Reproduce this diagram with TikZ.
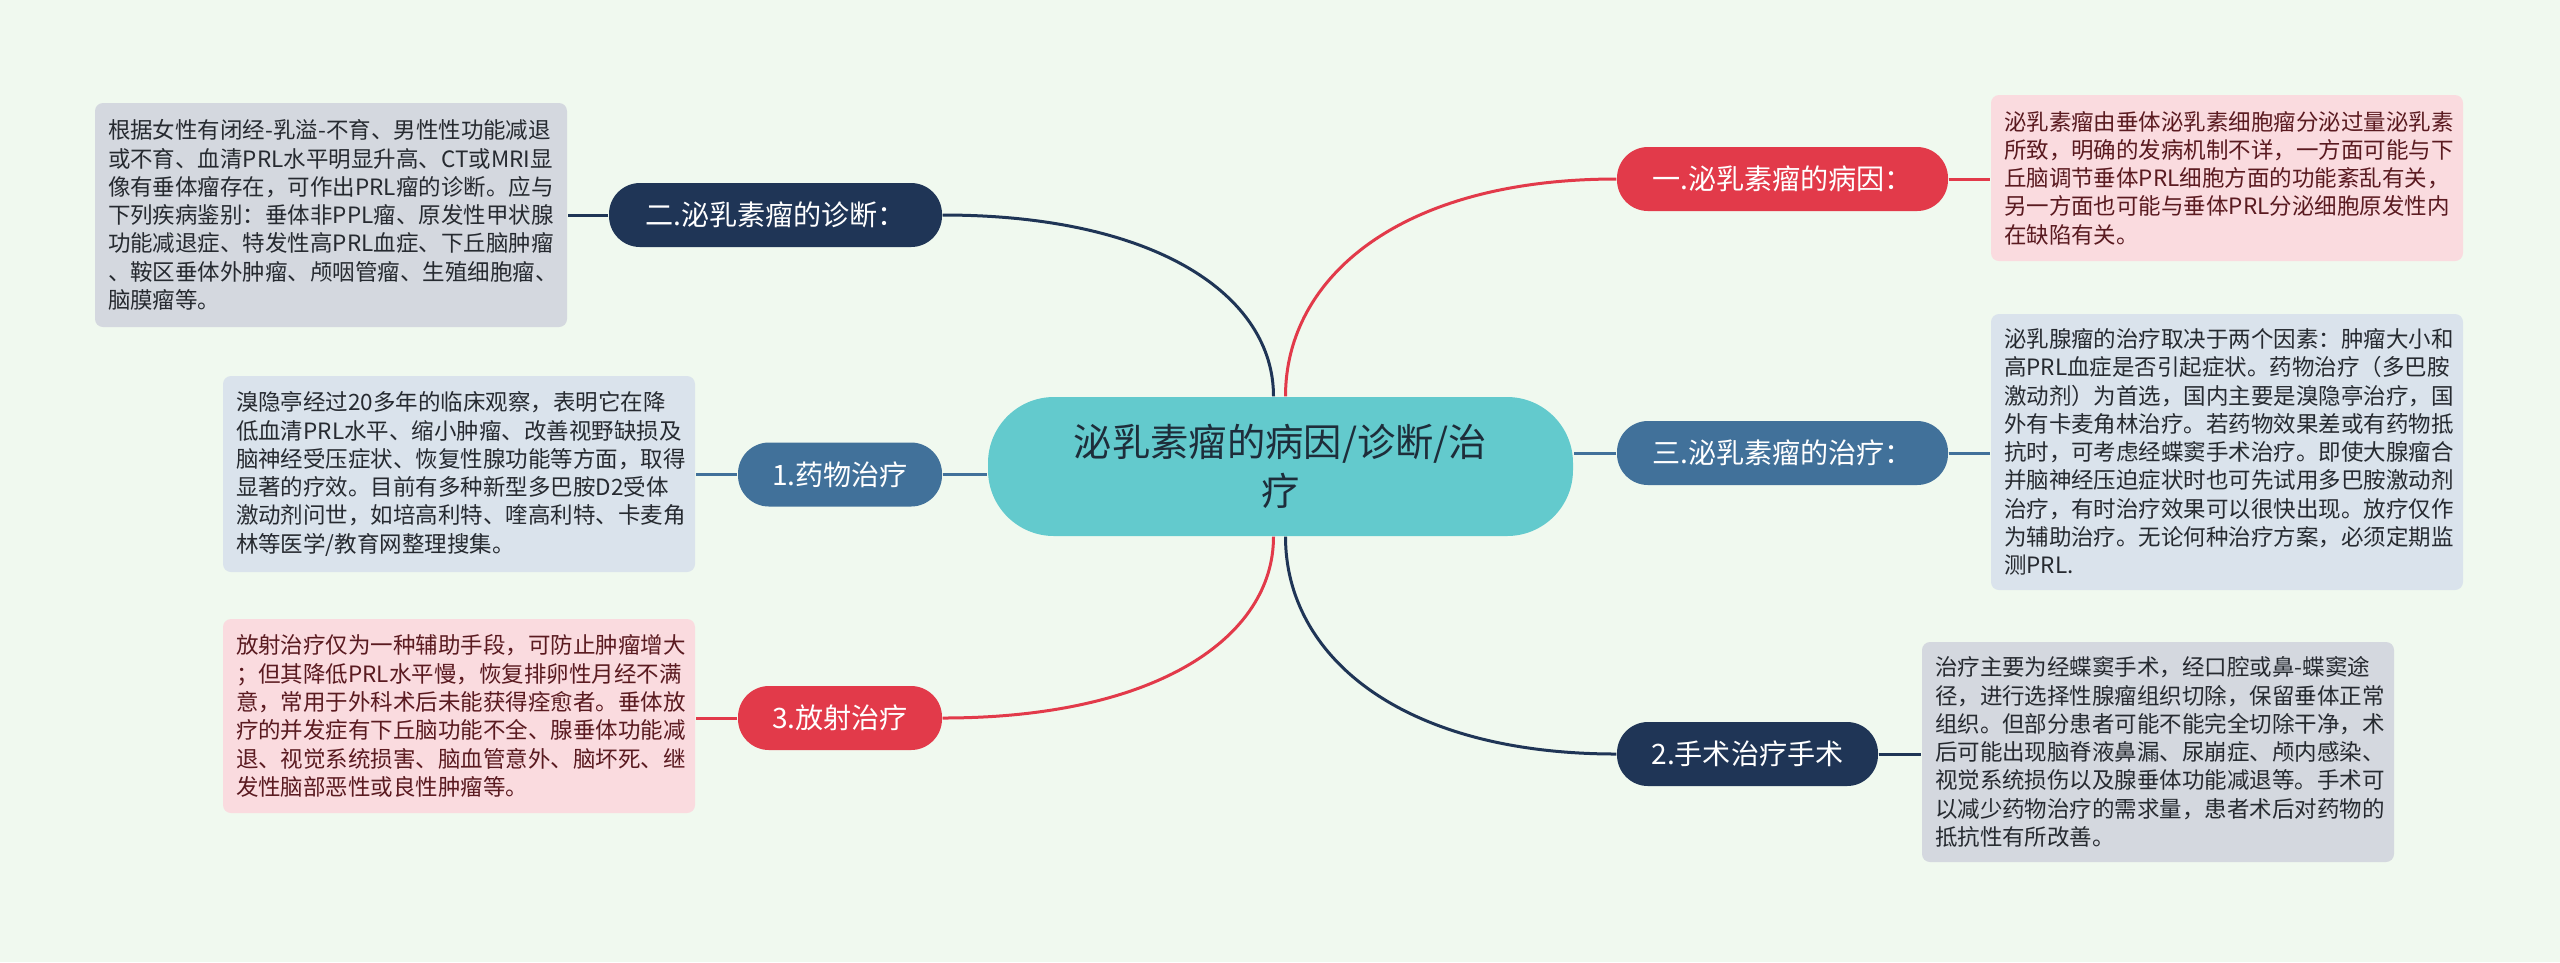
\documentclass[tikz,border=0pt]{standalone}
\usepackage{fontspec}
\setmainfont{Noto Sans CJK SC}
\usetikzlibrary{positioning}

\definecolor{bgcol}{HTML}{F0F9EF}
\definecolor{maincol}{HTML}{63CACD}
\definecolor{maintext}{HTML}{1E2D3A}
\definecolor{redcol}{HTML}{E23A4A}
\definecolor{navycol}{HTML}{1F3556}
\definecolor{steelcol}{HTML}{41719A}
\definecolor{pinkbox}{HTML}{FADBDF}
\definecolor{pinktext}{HTML}{5A1A20}
\definecolor{bluebox}{HTML}{DAE3EC}
\definecolor{graybox}{HTML}{D4D8DF}
\definecolor{boxtext}{HTML}{262A30}

\begin{document}
\begin{tikzpicture}[x=0.1mm, y=-0.1mm,
    mainbox/.style={fill=maincol, text=maintext, rounded corners=0.66cm, minimum width=5.85cm, minimum height=1.39cm, align=center, font=\fontsize{10.9pt}{13.9pt}\selectfont},
    branch/.style={rounded corners=0.31cm, minimum height=0.64cm, inner sep=0pt, text=white, font=\fontsize{8pt}{10pt}\selectfont},
    note/.style={rounded corners=0.08cm, text width=4.46cm, inner xsep=0.13cm, inner ysep=0pt, align=left, text=boxtext, font=\fontsize{6.4pt}{8.05pt}\selectfont},
    link/.style={line width=0.3mm}
]
    % Background
    \fill[bgcol] (0,0) rectangle (2560,962);
    \useasboundingbox (0,0) rectangle (2560,962);

    % Central topic
    \node[mainbox] (ctr) at (1280.5,466.5) {泌乳素瘤的病因/诊断/治\\疗};

    % Right branches
    \node[branch, fill=redcol, minimum width=3.31cm] (cause) at (1782.5,179) {一.泌乳素瘤的病因：};
    \node[branch, fill=steelcol, minimum width=3.31cm] (treat) at (1782.5,453) {三.泌乳素瘤的治疗：};
    \node[branch, fill=navycol, minimum width=2.61cm] (surg) at (1747.5,754) {2.手术治疗手术};

    % Left branches
    \node[branch, fill=navycol, minimum width=3.33cm] (diag) at (775.5,215) {二.泌乳素瘤的诊断：};
    \node[branch, fill=steelcol, minimum width=2.04cm] (drug) at (840,474.5) {1.药物治疗};
    \node[branch, fill=redcol, minimum width=2.04cm] (radio) at (840,718) {3.放射治疗};

    % Notes on the right
    \node[note, fill=pinkbox, text=pinktext, minimum height=1.66cm] (causenote) at (2227,178) {泌乳素瘤由垂体泌乳素细胞瘤分泌过量泌乳素\\所致，明确的发病机制不详，一方面可能与下\\丘脑调节垂体PRL细胞方面的功能紊乱有关，\\另一方面也可能与垂体PRL分泌细胞原发性内\\在缺陷有关。};
    \node[note, fill=bluebox, minimum height=2.76cm] (treatnote) at (2227,452) {泌乳腺瘤的治疗取决于两个因素：肿瘤大小和\\高PRL血症是否引起症状。药物治疗（多巴胺\\激动剂）为首选，国内主要是溴隐亭治疗，国\\外有卡麦角林治疗。若药物效果差或有药物抵\\抗时，可考虑经蝶窦手术治疗。即使大腺瘤合\\并脑神经压迫症状时也可先试用多巴胺激动剂\\治疗，有时治疗效果可以很快出现。放疗仅作\\为辅助治疗。无论何种治疗方案，必须定期监\\测PRL.};
    \node[note, fill=graybox, minimum height=2.2cm] (surgnote) at (2158,752) {治疗主要为经蝶窦手术，经口腔或鼻-蝶窦途\\径，进行选择性腺瘤组织切除，保留垂体正常\\组织。但部分患者可能不能完全切除干净，术\\后可能出现脑脊液鼻漏、尿崩症、颅内感染、\\视觉系统损伤以及腺垂体功能减退等。手术可\\以减少药物治疗的需求量，患者术后对药物的\\抵抗性有所改善。};

    % Notes on the left
    \node[note, fill=graybox, minimum height=2.24cm] (diagnote) at (331,215) {根据女性有闭经-乳溢-不育、男性性功能减退\\或不育、血清PRL水平明显升高、CT或MRI显\\像有垂体瘤存在，可作出PRL瘤的诊断。应与\\下列疾病鉴别：垂体非PPL瘤、原发性甲状腺\\功能减退症、特发性高PRL血症、下丘脑肿瘤\\、鞍区垂体外肿瘤、颅咽管瘤、生殖细胞瘤、\\脑膜瘤等。};
    \node[note, fill=bluebox, minimum height=1.96cm] (drugnote) at (459,474) {溴隐亭经过20多年的临床观察，表明它在降\\低血清PRL水平、缩小肿瘤、改善视野缺损及\\脑神经受压症状、恢复性腺功能等方面，取得\\显著的疗效。目前有多种新型多巴胺D2受体\\激动剂问世，如培高利特、喹高利特、卡麦角\\林等医学/教育网整理搜集。};
    \node[note, fill=pinkbox, text=pinktext, minimum height=1.94cm] (radionote) at (459,716) {放射治疗仅为一种辅助手段，可防止肿瘤增大\\；但其降低PRL水平慢，恢复排卵性月经不满\\意，常用于外科术后未能获得痊愈者。垂体放\\疗的并发症有下丘脑功能不全、腺垂体功能减\\退、视觉系统损害、脑血管意外、脑坏死、继\\发性脑部恶性或良性肿瘤等。};

    % Curved links from the centre
    \draw[link, redcol] ([xshift=0.05cm]ctr.north) .. controls +(0,-119) and +(-216,0) .. (cause.west);
    \draw[link, navycol] ([xshift=-0.07cm]ctr.north) .. controls +(0,-100) and +(215,0) .. (diag.east);
    \draw[link, redcol] ([xshift=-0.07cm]ctr.south) .. controls +(0,100) and +(215,0) .. (radio.east);
    \draw[link, navycol] ([xshift=0.05cm]ctr.south) .. controls +(0,119) and +(-216,0) .. (surg.west);

    % Straight links
    \draw[link, steelcol] (treat.west) -- (treat.west -| ctr.east);
    \draw[link, steelcol] (drug.east) -- (drug.east -| ctr.west);

    % Branch to note
    \draw[link, redcol] (cause.east) -- (cause.east -| causenote.west);
    \draw[link, steelcol] (treat.east) -- (treat.east -| treatnote.west);
    \draw[link, navycol] (surg.east) -- (surg.east -| surgnote.west);
    \draw[link, navycol] (diag.west) -- (diag.west -| diagnote.east);
    \draw[link, steelcol] (drug.west) -- (drug.west -| drugnote.east);
    \draw[link, redcol] (radio.west) -- (radio.west -| radionote.east);
\end{tikzpicture}
\end{document}
